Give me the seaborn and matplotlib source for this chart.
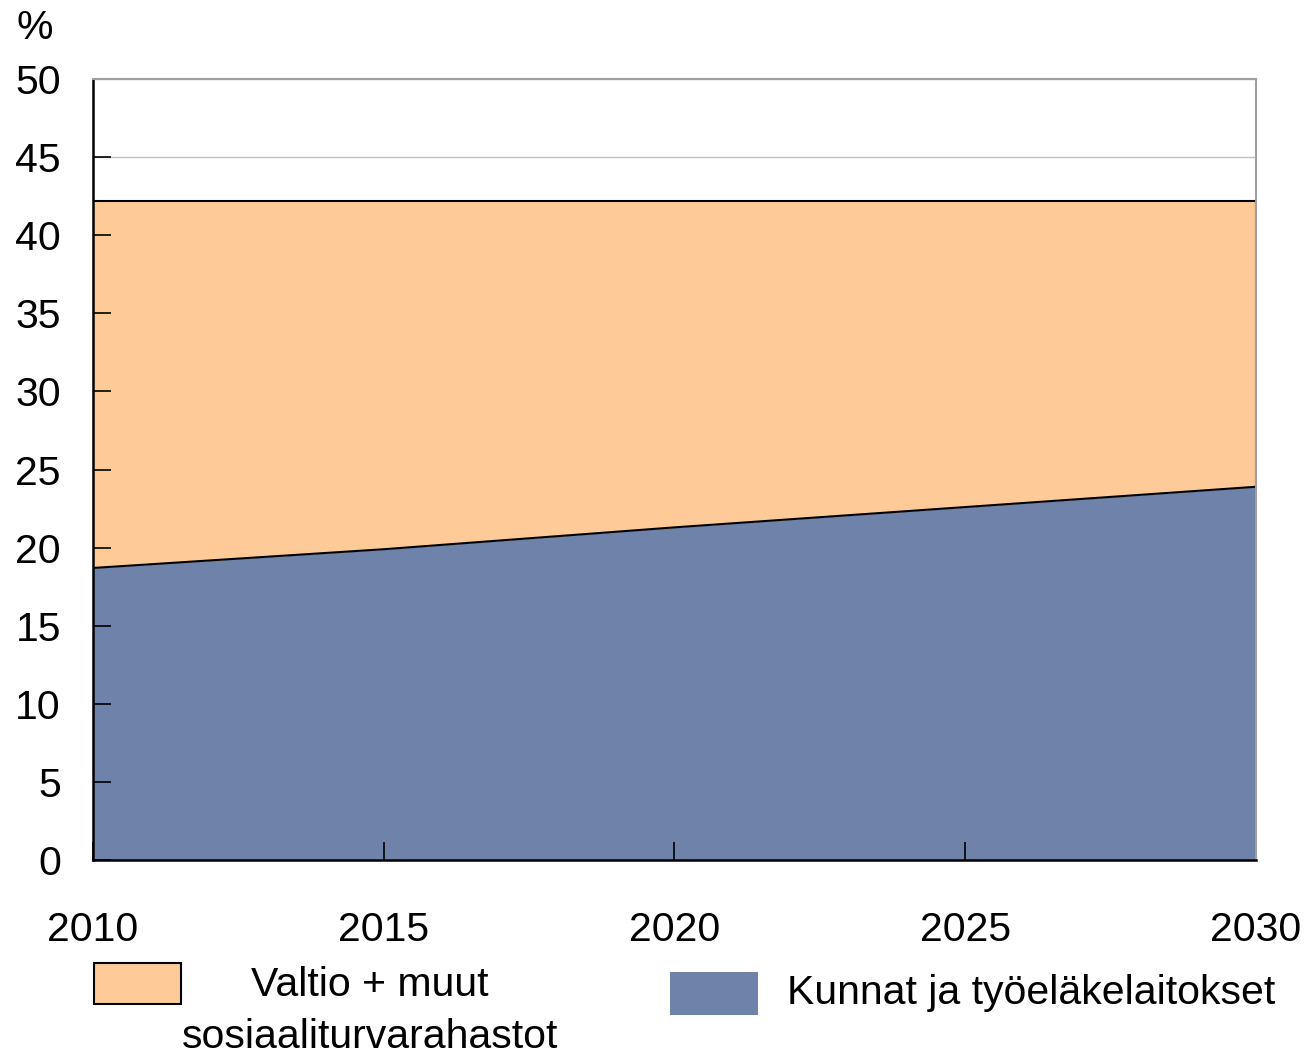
import numpy as np
import pandas as pd
import matplotlib
matplotlib.use("Agg")
import matplotlib.pyplot as plt
import seaborn as sns
from matplotlib.patches import Rectangle

# Data (% shares)
years = [2010, 2015, 2020, 2025, 2030]
kunnat = [18.7, 19.9, 21.3, 22.6, 23.9]        # Kunnat ja työeläkelaitokset
valtio = [23.5, 22.3, 20.9, 19.6, 18.3]        # Valtio + muut sosiaaliturvarahastot
yticks = list(range(0, 51, 5))
label_valtio = "Valtio + muut\nsosiaaliturvarahastot"
label_kunnat = "Kunnat ja työeläkelaitokset"

col_valtio = "#FECB98"
col_kunnat = "#6F83AA"

df = pd.DataFrame({"year": years, "kunnat": kunnat, "valtio": valtio})
df["total"] = df["kunnat"] + df["valtio"]

sns.set_theme(style="white")
plt.rcParams["font.family"] = ["Liberation Sans", "DejaVu Sans"]
plt.rcParams["text.color"] = "black"

fs = 29.5
fig = plt.figure(figsize=(13.09, 10.55), dpi=100)
ax = fig.add_axes([0.071, 0.1848, 0.8885, 0.7402])

# gridlines below the areas, ticks above them
ax.hlines(yticks, 2010, 2030, color="#c0c0c0", lw=1, zorder=1)
ax.fill_between(df["year"], 0, df["kunnat"], color=col_kunnat, lw=0, zorder=2)
ax.fill_between(df["year"], df["kunnat"], df["total"], color=col_valtio, lw=0, zorder=2)
sns.lineplot(data=df, x="year", y="kunnat", color="black", lw=1.5, ax=ax, zorder=3)
sns.lineplot(data=df, x="year", y="total", color="black", lw=1.5, ax=ax, zorder=3)
ax.vlines([years[-1]], 0, df["total"].iloc[-1], color="black", lw=1.5, zorder=3)

ax.set_xlim(2010, 2030)
ax.set_ylim(0, 50)
ax.set_xticks(years)
ax.set_yticks(yticks)
ax.set_xlabel("")
ax.set_ylabel("")
ax.grid(False)
ax.set_axisbelow(False)

ax.tick_params(axis="both", direction="in", labelsize=fs, colors="black",
               bottom=True, left=True, top=False, right=False)
ax.tick_params(axis="y", length=13, width=1.2, pad=23)
ax.tick_params(axis="x", length=13, width=1.2, pad=37)

for s in ["left", "bottom"]:
    ax.spines[s].set_color("black")
    ax.spines[s].set_linewidth(1.8)
for s in ["top", "right"]:
    ax.spines[s].set_color("#a0a0a0")
    ax.spines[s].set_linewidth(1.5)
for s in ax.spines.values():
    s.set_zorder(4)

fig.text(35 / 1309, 1 - 28 / 1055, "%", fontsize=fs, ha="center", va="center")

# Legend
W, H = 1309, 1055
fig.patches.append(Rectangle((94 / W, 1 - 1004 / H), 87 / W, 41 / H, transform=fig.transFigure,
                             facecolor=col_valtio, edgecolor="black", lw=1.5))
fig.text(370 / W, 1 - 1011 / H, label_valtio, fontsize=fs, ha="center", va="center",
         linespacing=1.5)
fig.patches.append(Rectangle((670 / W, 1 - 1015 / H), 88 / W, 43 / H, transform=fig.transFigure,
                             facecolor=col_kunnat, edgecolor="none"))
fig.text(787 / W, 1 - 993 / H, label_kunnat, fontsize=fs, ha="left", va="center")

fig.savefig("out.png", dpi=100)
